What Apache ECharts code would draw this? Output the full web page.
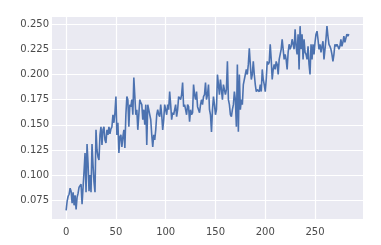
<!DOCTYPE html>
<html>
<head>
<meta charset="utf-8">
<script src="https://cdn.jsdelivr.net/npm/echarts@6/dist/echarts.min.js"></script>
<style>
html,body{margin:0;padding:0;background:#fff;}
#c{width:381px;height:245px;}
</style>
</head>
<body>
<div id="c"></div>
<script>
var steps = [];
for (var i = 0; i < 285; i++) steps.push(i);

var values = [
0.065,0.074,0.079,0.081,0.087,0.084,0.072,0.083,0.070,0.080,
0.066,0.078,0.082,0.088,0.087,0.091,0.071,0.070,0.104,0.122,
0.083,0.131,0.112,0.084,0.100,0.083,0.131,0.110,0.093,0.083,
0.145,0.125,0.118,0.115,0.140,0.148,0.130,0.145,0.148,0.135,
0.132,0.145,0.140,0.148,0.141,0.146,0.148,0.160,0.152,0.162,
0.178,0.140,0.152,0.122,0.138,0.140,0.128,0.138,0.145,0.127,
0.160,0.178,0.175,0.148,0.170,0.168,0.175,0.160,0.197,0.196,
0.160,0.165,0.145,0.160,0.175,0.172,0.170,0.155,0.165,0.150,
0.170,0.130,0.170,0.165,0.160,0.155,0.140,0.128,0.140,0.135,
0.145,0.160,0.165,0.160,0.158,0.170,0.160,0.145,0.155,0.170,
0.165,0.160,0.170,0.165,0.183,0.170,0.155,0.162,0.160,0.165,
0.170,0.158,0.165,0.178,0.177,0.175,0.180,0.192,0.168,0.170,
0.165,0.160,0.170,0.168,0.153,0.165,0.160,0.162,0.190,0.180,
0.175,0.183,0.168,0.165,0.162,0.170,0.175,0.170,0.178,0.180,
0.192,0.175,0.180,0.190,0.165,0.160,0.143,0.165,0.178,0.170,
0.160,0.165,0.200,0.190,0.180,0.195,0.185,0.175,0.190,0.185,
0.180,0.185,0.213,0.175,0.170,0.160,0.158,0.165,0.170,0.183,
0.175,0.148,0.210,0.143,0.200,0.165,0.175,0.170,0.190,0.195,
0.200,0.205,0.200,0.210,0.226,0.210,0.195,0.200,0.213,0.200,
0.190,0.183,0.185,0.185,0.183,0.190,0.183,0.205,0.195,0.190,
0.183,0.195,0.213,0.210,0.212,0.230,0.215,0.195,0.205,0.210,
0.205,0.213,0.210,0.200,0.215,0.220,0.225,0.235,0.225,0.215,
0.220,0.215,0.205,0.222,0.230,0.225,0.228,0.235,0.230,0.225,
0.245,0.228,0.220,0.240,0.205,0.248,0.225,0.240,0.215,0.235,
0.222,0.220,0.215,0.228,0.210,0.200,0.230,0.215,0.230,0.220,
0.232,0.240,0.243,0.235,0.225,0.230,0.222,0.228,0.233,0.215,
0.225,0.235,0.248,0.238,0.230,0.228,0.225,0.220,0.213,0.220,
0.230,0.228,0.230,0.228,0.225,0.228,0.235,0.228,0.232,0.238,
0.232,0.236,0.240,0.238,0.240
];

var xTicks = [0, 50, 100, 150, 200, 250];
var yTicks = [0.075, 0.100, 0.125, 0.150, 0.175, 0.200, 0.225, 0.250];

var xMin = -14.2, xMax = 298.2;
var yMin = 0.0564, yMax = 0.2571;

var data = steps.map(function (s, i) { return [s, values[i]]; });

var chart = echarts.init(document.getElementById('c'), null, {renderer: 'canvas'});
var labelStyle = {color: '#4a4a4a', fontSize: 10, fontFamily: 'DejaVu Sans'};
chart.setOption({
  animation: false,
  grid: {left: 52, right: 18, top: 17, bottom: 26, show: true, backgroundColor: '#EAEAF2', borderWidth: 0},
  xAxis: {
    type: 'value', min: xMin, max: xMax,
    axisLine: {show: false},
    axisTick: {show: false, customValues: xTicks},
    axisLabel: Object.assign({customValues: xTicks, margin: 8}, labelStyle),
    splitLine: {show: true, lineStyle: {color: '#ffffff', width: 1.2}}
  },
  yAxis: {
    type: 'value', min: yMin, max: yMax,
    axisLine: {show: false},
    axisTick: {show: false, customValues: yTicks},
    axisLabel: Object.assign({customValues: yTicks, margin: 3, formatter: function (v) { return v.toFixed(3); }}, labelStyle),
    splitLine: {show: true, lineStyle: {color: '#ffffff', width: 1.2}}
  },
  series: [{
    type: 'line', data: data, showSymbol: false, symbol: 'none',
    lineStyle: {color: '#4C72B0', width: 1.6},
    itemStyle: {color: '#4C72B0'}
  }]
});
</script>
</body>
</html>
